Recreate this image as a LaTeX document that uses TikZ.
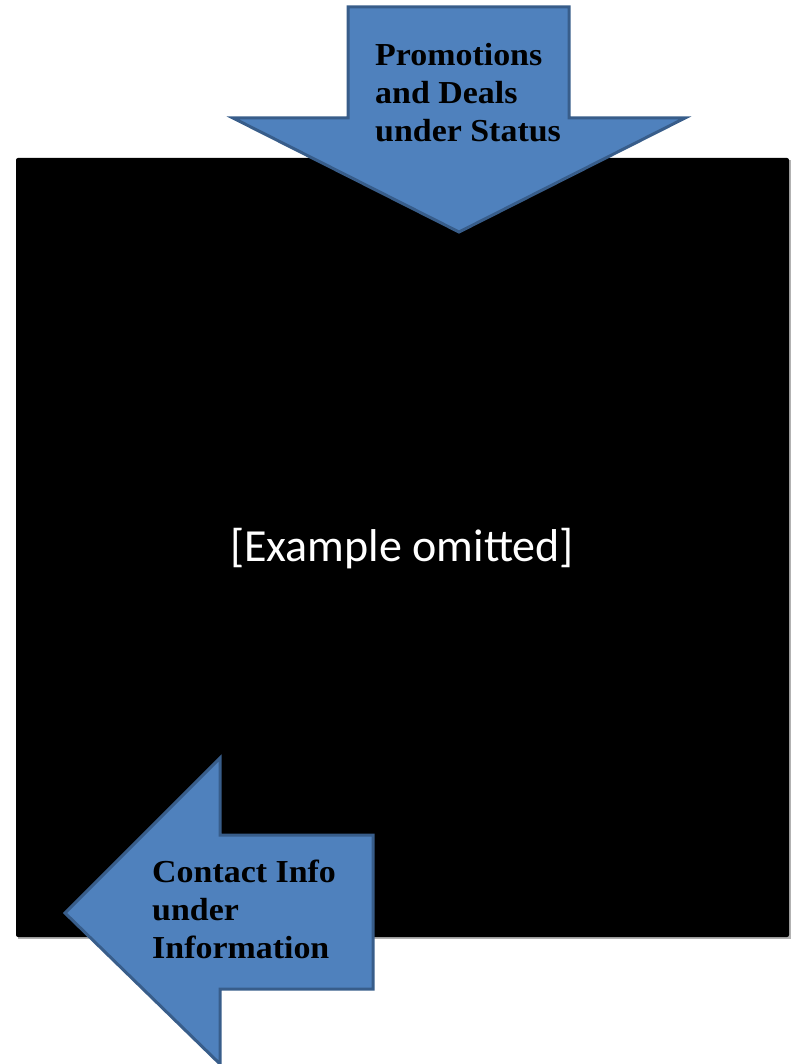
\documentclass[tikz,border=0pt]{standalone}
\usepackage{fontspec}
\newfontfamily\carlito{Carlito}
\newfontfamily\boldserif[FakeStretch=1.06]{Liberation Serif}
\usepackage{tikz}
\usetikzlibrary{positioning, calc}
\definecolor{arrowfill}{HTML}{4F81BD}
\definecolor{arrowline}{HTML}{385D8A}
\tikzset{
    bluearrow/.style={fill=arrowfill, draw=arrowline, line width=3pt, line join=miter},
    arrowtext/.style={anchor=base west, align=left, inner sep=0pt, font=\boldserif\bfseries\fontsize{32}{38}\selectfont},
}

\begin{document}
\begin{tikzpicture}[x=1pt, y=-1pt]
        \useasboundingbox (0,0) rectangle (790,1064);
        \coordinate (S1) at (16,158);
        \coordinate (S2) at (789,937);
        \fill[gray!60] ($(S1)+(2,2)$) rectangle ($(S2)+(2,2)$);
        \fill[black, rounded corners=2pt] (S1) rectangle (S2);
        \node[text=white, font=\carlito\fontsize{46}{52}\selectfont] (omit) at (402,549) {[Example omitted]};
        \coordinate (D1) at (348,7);
        \coordinate (D2) at (569,7);
        \coordinate (D3) at (569,118);
        \coordinate (D4) at (685,118);
        \coordinate (D5) at (459,232);
        \coordinate (D6) at (233,118);
        \coordinate (D7) at (348,118);
        \draw[bluearrow] (D1) -- (D2) -- (D3) -- (D4) -- (D5) -- (D6) -- (D7) -- cycle;
        \node[arrowtext] (promo) at (375,142) {Promotions\\and Deals\\under Status};
        \coordinate (L1) at (373,835);
        \coordinate (L2) at (373,989);
        \coordinate (L3) at (220,989);
        \coordinate (L4) at (220,1064);
        \coordinate (L5) at (65,913);
        \coordinate (L6) at (220,758);
        \coordinate (L7) at (220,835);
        \draw[bluearrow] (L1) -- (L2) -- (L3) -- (L4) -- (L5) -- (L6) -- (L7) -- cycle;
        \node[arrowtext] (contact) at (152,958) {Contact Info\\under\\Information};
    \end{tikzpicture}
\end{document}
